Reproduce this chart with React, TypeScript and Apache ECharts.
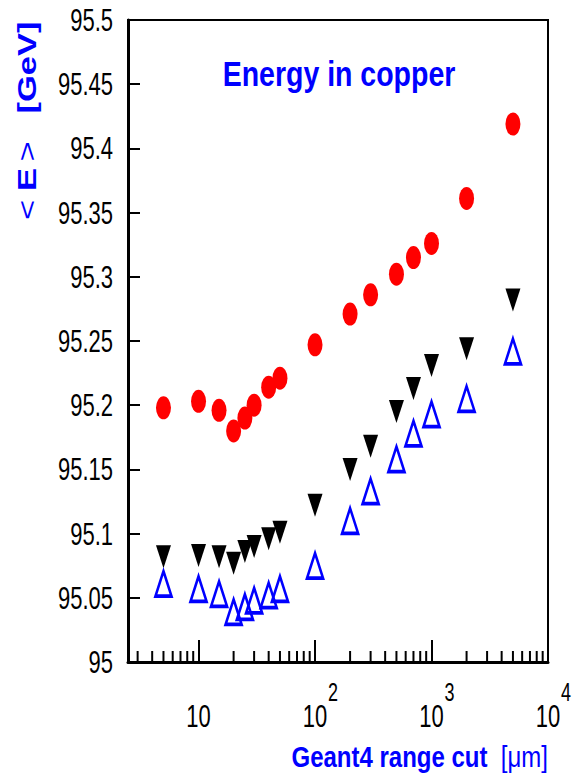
import React, { useEffect, useRef } from "react";
import * as echarts from "echarts";

// Range cut values (µm)
const rangeCuts = [5, 10, 15, 20, 25, 30, 40, 50, 100, 200, 300, 500, 700, 1000, 2000, 5000];
// <E> values (GeV)
const redCircles = [95.198, 95.203, 95.196, 95.180, 95.190, 95.200, 95.214, 95.221, 95.247, 95.271, 95.286, 95.302, 95.315, 95.326, 95.361, 95.419];
const blackDown = [95.082, 95.083, 95.082, 95.077, 95.086, 95.090, 95.096, 95.101, 95.122, 95.150, 95.168, 95.195, 95.213, 95.231, 95.244, 95.282];
const blueOpen = [95.061, 95.057, 95.053, 95.039, 95.043, 95.048, 95.052, 95.057, 95.075, 95.110, 95.133, 95.158, 95.178, 95.193, 95.205, 95.242];

// axis ticks and tick labels
const yTickValues = [95, 95.05, 95.1, 95.15, 95.2, 95.25, 95.3, 95.35, 95.4, 95.45, 95.5];
const yTickLabels = ["95", "95.05", "95.1", "95.15", "95.2", "95.25", "95.3", "95.35", "95.4", "95.45", "95.5"];
const xTickValues = [10, 100, 1000, 10000];
const xTickBase = ["10", "10", "10", "10"];
const xTickExponents = ["", "2", "3", "4"];
const minorTicks = [3, 4, 5, 6, 7, 8, 9, 20, 30, 40, 50, 60, 70, 80, 90, 200, 300, 400, 500, 600, 700, 800, 900, 2000, 3000, 4000, 5000, 6000, 7000, 8000, 9000];

const X_MIN = 2.48;
const X_MAX = 10000;
const Y_MIN = 95;
const Y_MAX = 95.5;

const FONT = '"Liberation Sans", Arial, Helvetica, sans-serif';
const BLUE = "#0000ff";

export default function App() {
  const ref = useRef<HTMLDivElement>(null);
  useEffect(() => {
    if (!ref.current) return;
    const chart = echarts.init(ref.current, null, { renderer: "svg" });
    const pair = (ys: number[]) => rangeCuts.map((x, i) => [x, ys[i]]);
    const option: any = {
      animation: false,
      backgroundColor: "#ffffff",
      grid: {
        left: 128,
        top: 20,
        width: 420,
        height: 642,
        containLabel: false,
        outerBoundsMode: "none",
        show: true,
        borderColor: "#000",
        borderWidth: 2,
        backgroundColor: "transparent",
      },
      xAxis: {
        type: "log",
        logBase: 10,
        min: X_MIN,
        max: X_MAX,
        axisLine: { show: true, lineStyle: { color: "#000", width: 3 } },
        axisTick: { show: true, inside: true, length: 22, lineStyle: { color: "#000", width: 2 } },
        splitLine: { show: false },
        minorTick: { show: false },
        axisLabel: { show: false },
      },
      yAxis: {
        type: "value",
        min: Y_MIN,
        max: Y_MAX,
        interval: 0.05,
        axisLine: { show: true, lineStyle: { color: "#000", width: 3 } },
        axisTick: { show: true, inside: true, length: 12, lineStyle: { color: "#000", width: 2 } },
        splitLine: { show: false },
        axisLabel: { show: false },
      },
      series: [
        {
          // minor ticks of the log axis
          type: "custom",
          silent: true,
          data: minorTicks.map((x) => [x, Y_MIN]),
          renderItem: (params: any, api: any) => {
            const p = api.coord([api.value(0), api.value(1)]);
            return {
              type: "line",
              shape: { x1: p[0], y1: p[1], x2: p[0], y2: p[1] - 11 },
              style: { stroke: "#000", lineWidth: 2 },
            };
          },
          z: 1,
        },
        {
          // y tick labels
          type: "custom",
          silent: true,
          clip: false,
          data: yTickValues.map((v) => [X_MIN, v]),
          renderItem: (params: any, api: any) => {
            const p = api.coord([api.value(0), api.value(1)]);
            return {
              type: "text",
              x: p[0] - 15,
              y: p[1],
              scaleY: 1.45,
              style: {
                text: yTickLabels[params.dataIndex],
                fontFamily: FONT,
                fontSize: 22,
                fill: "#000",
                align: "right",
                verticalAlign: "middle",
              },
            };
          },
          z: 2,
        },
        {
          // x tick labels (powers of ten)
          type: "custom",
          silent: true,
          clip: false,
          data: xTickValues.map((v) => [v, Y_MIN]),
          renderItem: (params: any, api: any) => {
            const p = api.coord([api.value(0), api.value(1)]);
            const i = params.dataIndex;
            const children: any[] = [
              {
                type: "text",
                x: p[0],
                y: p[1] + 54,
                scaleY: 1.45,
                style: {
                  text: xTickBase[i],
                  fontFamily: FONT,
                  fontSize: 22,
                  fill: "#000",
                  align: "center",
                  verticalAlign: "middle",
                },
              },
            ];
            if (xTickExponents[i]) {
              children.push({
                type: "text",
                x: p[0] + 13,
                y: p[1] + 30.5,
                scaleY: 1.45,
                style: {
                  text: xTickExponents[i],
                  fontFamily: FONT,
                  fontSize: 18,
                  fill: "#000",
                  align: "left",
                  verticalAlign: "middle",
                },
              });
            }
            return { type: "group", children };
          },
          z: 2,
        },
        {
          type: "scatter",
          name: "red",
          data: pair(redCircles),
          symbol: "path://M0,-1A1,1,0,1,1,0,1A1,1,0,1,1,0,-1Z",
          symbolSize: [15, 23],
          itemStyle: { color: "#ff0000", opacity: 1 },
          z: 3,
        },
        {
          type: "scatter",
          name: "black",
          data: pair(blackDown),
          symbol: "triangle",
          symbolRotate: 180,
          symbolSize: [15, 23],
          itemStyle: { color: "#000000", opacity: 1 },
          z: 3,
        },
        {
          type: "scatter",
          name: "blue",
          data: pair(blueOpen),
          symbol: "triangle",
          symbolSize: [16, 25],
          itemStyle: { color: "rgba(0,0,0,0)", borderColor: BLUE, borderWidth: 3, opacity: 1 },
          z: 4,
        },
      ],
      graphic: [
        {
          type: "text",
          x: 339,
          y: 74,
          scaleY: 1.25,
          style: {
            text: "Energy in copper",
            fontFamily: FONT,
            fontWeight: "bold",
            fontSize: 28.5,
            fill: BLUE,
            align: "center",
            verticalAlign: "middle",
          },
        },
        {
          type: "text",
          x: 548,
          y: 757,
          scaleY: 1.2,
          style: {
            text: "{b|Geant4 range cut}{r|  [\u03bcm]}",
            align: "right",
            verticalAlign: "middle",
            fill: BLUE,
            rich: {
              b: { fontFamily: FONT, fontWeight: "bold", fontSize: 24, fill: BLUE },
              r: { fontFamily: FONT, fontWeight: "normal", fontSize: 24, fill: BLUE },
            },
          },
        },
        {
          type: "group",
          children: [
            { t: "<", y: 210, w: "normal" },
            { t: "E", y: 179.5, w: "bold" },
            { t: ">", y: 151.5, w: "normal" },
            { t: "[GeV]", y: 67.5, w: "bold" },
          ].map((d) => ({
            type: "text",
            x: 27,
            y: d.y,
            rotation: Math.PI / 2,
            scaleX: 1.38,
            style: {
              text: d.t,
              fontFamily: FONT,
              fontWeight: d.w,
              fontSize: 25,
              fill: BLUE,
              align: "center",
              verticalAlign: "middle",
            },
          })),
        },
      ],
    };
    chart.setOption(option);
    return () => chart.dispose();
  }, []);
  return (
    <div
      ref={ref}
      style={{ position: "absolute", left: 0, top: 0, width: 573, height: 780, background: "#fff" }}
    />
  );
}
